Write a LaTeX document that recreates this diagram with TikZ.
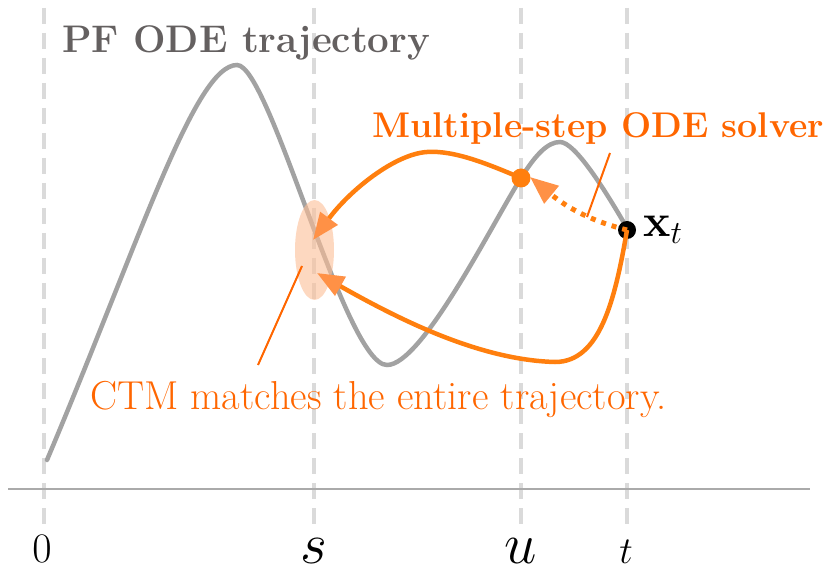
\RequirePackage{fix-cm}
\documentclass[tikz,border=0pt]{standalone}
\usetikzlibrary{arrows.meta,shapes.geometric}
\definecolor{ctmorange}{RGB}{255,127,14}
\definecolor{txtorange}{RGB}{255,102,0}
\definecolor{headorange}{RGB}{255,145,70}
\definecolor{trajgray}{RGB}{162,162,162}
\definecolor{gridgray}{RGB}{218,218,218}
\definecolor{axisgray}{RGB}{170,170,170}
\definecolor{titlegray}{RGB}{100,96,96}
\definecolor{ellfill}{RGB}{252,190,150}
\begin{document}
\begin{tikzpicture}[x=1pt,y=-1pt,
  gridline/.style={draw=gridgray,line width=4pt,dash pattern=on 16pt off 9pt},
  traj/.style={draw=trajgray,line width=4.5pt,line cap=round},
  arr/.style={draw=ctmorange,line width=4.5pt,-{Triangle[length=27pt,width=21pt,color=headorange]}},
  dotarr/.style={draw=ctmorange,line width=5pt,dash pattern=on 5pt off 6pt,-{Triangle[length=28pt,width=22pt,color=headorange]}},
  ptr/.style={draw=txtorange,line width=2pt},
  lbl/.style={inner sep=0pt,anchor=base}]
\useasboundingbox (0,0) rectangle (830,577);
% grid lines
\foreach \xx in {44,314,521,627} \draw[gridline] (\xx,8) -- (\xx,528);
% axis
\draw[draw=axisgray,line width=2pt] (8,489) -- (810,489);
% axis labels
\node[lbl,font=\fontsize{42}{46}\selectfont] (l0) at (42,562) {$0$};
\node[lbl,font=\fontsize{58}{62}\selectfont] (ls) at (314,563) {$s$};
\node[lbl,font=\fontsize{58}{62}\selectfont] (lu) at (521,563) {$u$};
\node[lbl,font=\fontsize{38}{42}\selectfont] (lt) at (626,563) {$t$};
% trajectory
\draw[traj] (47,460) .. controls (140,240) and (195,65) .. (237,65)
  .. controls (270,65) and (345,365) .. (387,365)
  .. controls (422,365) and (491,226) .. (521,178)
  .. controls (536,154) and (548,142) .. (560,142)
  .. controls (575,142) and (605,190) .. (627,228);
% ellipse
\node[ellipse,fill=ellfill,fill opacity=0.6,minimum width=39pt,minimum height=100pt,inner sep=0pt] (ell) at (314.5,250) {};
% points
\node[circle,fill=black,minimum size=18pt,inner sep=0pt] (xt) at (627,230) {};
\node[circle,fill=ctmorange,minimum size=19pt,inner sep=0pt] (up) at (521,178) {};
\coordinate (tipA) at (313,240);
\coordinate (tipB) at (317,273);
\coordinate (tipC) at (530,177);
% arrows
\draw[arr] (up.center) .. controls (490,165) and (455,150) .. (427,152) .. controls (395,154) and (350,190) .. (tipA);
\draw[arr] (xt.center) .. controls (615,300) and (600,362) .. (555,362) .. controls (480,360) and (400,320) .. (tipB);
\draw[dotarr] (xt.center) .. controls (595,222) and (570,210) .. (tipC);
% labels
\node[lbl,anchor=base west,font=\fontsize{38.5}{42}\selectfont\bfseries,text=titlegray] (title) at (62,53) {PF ODE trajectory};
\node[lbl,anchor=base west,font=\fontsize{35.7}{40}\selectfont\bfseries,text=txtorange] (ms) at (372,138) {Multiple-step ODE solver};
\node[lbl,anchor=base west,font=\fontsize{40.4}{44}\selectfont,text=txtorange] (ctm) at (90,409) {CTM matches the entire trajectory.};
\node[lbl,anchor=base west,font=\fontsize{46}{50}\selectfont] (xlab) at (643,237) {$\mathbf{x}_t$};
% pointers
\coordinate (pA1) at (610,153);
\coordinate (pA2) at (587,217);
\coordinate (pB1) at (258,365);
\coordinate (pB2) at (302,266);
\draw[ptr] (pA1) -- (pA2);
\draw[ptr] (pB1) -- (pB2);
\end{tikzpicture}
\end{document}
